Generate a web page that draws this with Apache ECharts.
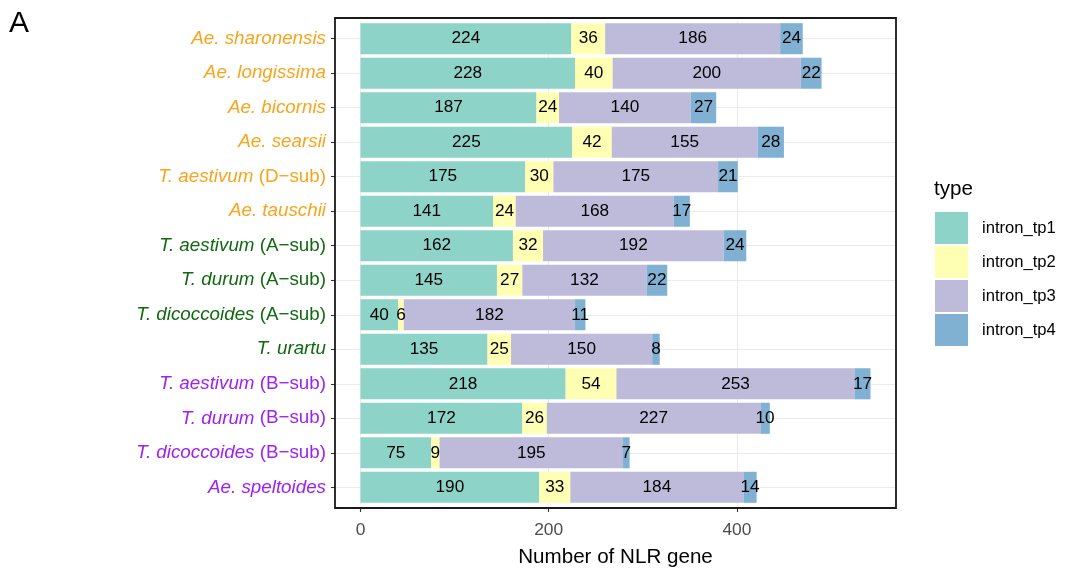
<!DOCTYPE html>
<html><head><meta charset="utf-8">
<script src="https://cdn.jsdelivr.net/npm/echarts@6/dist/echarts.min.js"></script>
<style>html,body{margin:0;padding:0;background:#fff}#c{width:1075px;height:576px}</style>
</head><body><div id="c"></div>
<script>
const species = ['Ae. sharonensis','Ae. longissima','Ae. bicornis','Ae. searsii','T. aestivum','Ae. tauschii','T. aestivum','T. durum','T. dicoccoides','T. urartu','T. aestivum','T. durum','T. dicoccoides','Ae. speltoides'];
const subgenomes = ['','','','','D\u2212sub','','A\u2212sub','A\u2212sub','A\u2212sub','','B\u2212sub','B\u2212sub','B\u2212sub',''];
const groups = ['D','D','D','D','D','D','A','A','A','A','B','B','B','B'];
const intron_tp1 = [224,228,187,225,175,141,162,145,40,135,218,172,75,190];
const intron_tp2 = [36,40,24,42,30,24,32,27,6,25,54,26,9,33];
const intron_tp3 = [186,200,140,155,175,168,192,132,182,150,253,227,195,184];
const intron_tp4 = [24,22,27,28,21,17,24,22,11,8,17,10,7,14];
const seriesNames = ['intron_tp1','intron_tp2','intron_tp3','intron_tp4'];
const xTicks = [0,200,400];

const FONT = 'Liberation Sans, Arial, Helvetica, sans-serif';
const seriesColors = ['#8DD3C7','#FFFFB3','#BEBADA','#80B1D3'];
const groupColors = {D:'#F9A41A', A:'#0F6A0F', B:'#A020F0'};

// panel (ggplot-like) geometry
const panel = {left:335, right:896, top:18, bottom:508};
const nCat = species.length;
const band = (panel.bottom - panel.top) / (nCat + 0.2);
const gridTop = panel.top + 0.1*band;
const gridBottom = panel.bottom - 0.1*band;

const categories = species.map((s,i)=> subgenomes[i] ? s + ' (' + subgenomes[i] + ')' : s);
const allData = [intron_tp1, intron_tp2, intron_tp3, intron_tp4];
const maxTotal = Math.max(...categories.map((_,i)=>allData.reduce((a,d)=>a+d[i],0)));
const xMin = -0.05*maxTotal, xMax = maxTotal*1.05;

const rich = {};
Object.keys(groupColors).forEach(g=>{
  rich['i'+g] = {color:groupColors[g], fontStyle:'italic', fontSize:18.8, fontFamily:FONT};
  rich['n'+g] = {color:groupColors[g], fontStyle:'normal', fontSize:18.8, fontFamily:FONT};
});

const chart = echarts.init(document.getElementById('c'), null, {renderer:'canvas'});
chart.setOption({
  animation:false,
  backgroundColor:'#fff',
  textStyle:{fontFamily:FONT},
  grid:{left:panel.left, right:1075-panel.right, top:gridTop, bottom:576-gridBottom, containLabel:false},
  legend:{
    data:seriesNames, orient:'vertical', left:935, top:212, padding:0, icon:'rect',
    itemWidth:33, itemHeight:32, itemGap:2,
    itemStyle:{borderWidth:0},
    textStyle:{fontSize:16.6, color:'#000', fontFamily:FONT, padding:[0,0,0,9]},
    selectedMode:false
  },
  xAxis:{
    type:'value', min:xMin, max:xMax, offset:panel.bottom-gridBottom,
    name:'Number of NLR gene', nameLocation:'middle', nameGap:39,
    nameTextStyle:{fontSize:20.6, color:'#000', fontFamily:FONT},
    axisLine:{show:false, onZero:false},
    axisTick:{show:true, length:4, customValues:xTicks, lineStyle:{color:'#333', width:1.1}},
    axisLabel:{customValues:xTicks, fontSize:17.4, color:'#4D4D4D', margin:14, fontFamily:FONT},
    splitLine:{show:true, lineStyle:{color:'#EBEBEB', width:1.1}}
  },
  yAxis:{
    type:'category', inverse:true, data:categories,
    axisLine:{show:false, onZero:false},
    axisTick:{show:true, alignWithLabel:true, length:4, lineStyle:{color:'#333', width:1.1}},
    axisLabel:{margin:9, formatter:(v,i)=>{
      const g = groups[i];
      return '{i'+g+'|'+species[i]+'}' + (subgenomes[i] ? '{n'+g+'| ('+subgenomes[i]+')}' : '');
    }, rich:rich},
    splitLine:{show:true, alignWithLabel:true, lineStyle:{color:'#EBEBEB', width:1.1}}
  },
  graphic:[
    {type:'rect', z:100, silent:true, shape:{x:panel.left, y:panel.top, width:panel.right-panel.left, height:panel.bottom-panel.top},
     style:{fill:'none', stroke:'#1A1A1A', lineWidth:1.8}},
    {type:'text', left:9, top:9, style:{text:'A', fontSize:30, fill:'#000', fontFamily:FONT}},
    {type:'text', left:934, top:179, style:{text:'type', fontSize:20.6, fill:'#000', fontFamily:FONT}}
  ],
  series: seriesNames.map((n,k)=>({
    type:'bar', name:n, stack:'total', data:allData[k], barWidth:'90%',
    itemStyle:{color:seriesColors[k]},
    label:{show:true, position:'inside', color:'#000', fontSize:17.2, fontFamily:FONT},
    emphasis:{disabled:true}
  }))
});
</script></body></html>
